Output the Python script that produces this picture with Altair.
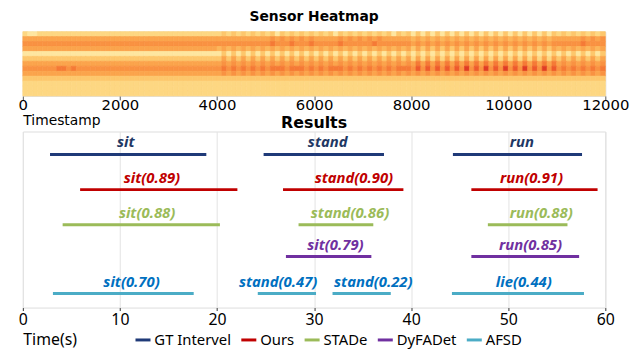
import altair as alt
import pandas as pd

# ---------------- Sensor heatmap (levels 0-9) ----------------
heat_start = [0, 100]          # column width in timestamps (first, step)
heat_rows = [
    "2112222222 2222222222 2222222222 2222222222 2323232323 2313232323 2323132323 2323231323 1313131313 1313131313 1313131313 2323232323",
    "5555555555 5555555555 5555555555 5555555555 5555555555 5656565656 5555565656 5656555555 4545454545 4545454545 4545454545 5555565656",
    "6666666666 6666666666 6666666666 6666666666 6666666666 6766676667 6666676666 6676666666 5656565656 5656565656 5656565656 6666676666",
    "5555555555 5555555555 5555555555 5555555555 4545454545 4545454545 4545454545 4545454545 3535353535 3535353535 3535353535 4545454545",
    "1111111111 1111111111 1111111111 1111111111 1313131313 1313131313 1313131313 1313131313 1313131313 1313131313 1313131313 1313131313",
    "3333333333 3333333333 3333333333 3333333333 3535353535 3535353535 3535353535 3535353535 2525252525 2525252525 2525252525 3535353535",
    "5555555555 5555555555 5555555555 5555555555 5656565656 5656565656 5656565656 5656565656 5757575757 5757575757 5757575757 5656565656",
    "6666666776 7666666666 6666666666 6666666666 6767676767 6777677767 6767776767 6767676777 6868686868 6968696869 6869686968 6767676767",
    "5555555555 5555555555 5555555555 5555555555 5656565656 5656565656 5656565656 5656565656 5656565656 5656565656 5656565656 5656565656",
    "3333333333 3333333333 3333333333 3333333333 3333333333 3333333333 3333333333 3333333333 3333333333 3333333333 3333333333 3333333333",
    "2222222222 2222222222 2222222222 2222222222 2222222222 2222222222 2222222222 2222222222 2222222222 2222222222 2222222222 2222222222",
    "2222222222 2222222222 2222222222 2222222222 2222222222 2222222222 2222222222 2222222222 2222222222 2222222222 2222222222 2222222222",
    "2222222222 2222222222 2222222222 2222222222 2222222222 2222222222 2222222222 2222222222 2222222222 2222222222 2222222222 2222222222",
]
heat_levels = [0, 1, 2, 3, 4, 5, 6, 7, 8, 9]
heat_colors = ["#fff2b8", "#fee6a0", "#fdd782", "#fdc76c", "#fcb65a",
               "#fba44c", "#f99242", "#f57a36", "#ee5a2c", "#e03c24"]
heat_ticks = [0, 2000, 4000, 6000, 8000, 10000, 12000]

step = heat_start[1]
recs = []
for r, row in enumerate(heat_rows):
    s = row.replace(" ", "")
    for c, ch in enumerate(s):
        recs.append({"row": r, "row2": r + 1, "t": c * step, "t2": (c + 1) * step, "v": int(ch)})
heat_df = pd.DataFrame(recs)

heat = alt.Chart(heat_df).mark_rect(strokeWidth=0.7).encode(
    x=alt.X("t:Q", scale=alt.Scale(domain=[0, 12000], nice=False, zero=False),
            axis=alt.Axis(values=heat_ticks, format="d", title="Timestamp", grid=False,
                          labelFont="DejaVu Sans", labelFontSize=15, labelColor="black",
                          labelPadding=-2, tickSize=4, tickColor="#555", domain=False,
                          titleFont="DejaVu Sans", titleFontSize=14, titleFontWeight="normal",
                          titleColor="black", titleAnchor="start", titleAlign="left",
                          titleBaseline="middle", titleX=0, titleY=25, labelFlush=False)),
    x2="t2:Q",
    y=alt.Y("row:Q", scale=alt.Scale(domain=[0, len(heat_rows)], reverse=True, nice=False, zero=False), axis=None),
    y2="row2:Q",
    color=alt.Color("v:Q", scale=alt.Scale(domain=heat_levels, range=heat_colors), legend=None),
    stroke=alt.Stroke("v:Q", scale=alt.Scale(domain=heat_levels, range=heat_colors), legend=None),
).properties(
    width=589, height=65,
    title=alt.TitleParams("Sensor Heatmap", font="DejaVu Sans", fontSize=14, fontWeight="bold",
                          color="black", anchor="middle", offset=7),
)

# ---------------- Results ----------------
methods = ["GT Intervel", "Ours", "STADe", "DyFADet", "AFSD"]
method_y = [4.35, 3.35, 2.35, 1.45, 0.4]
line_colors = ["#1f3a78", "#c00000", "#9bbb59", "#7030a0", "#4bacc6"]
label_colors = ["#1f3864", "#c00000", "#9bbb59", "#7030a0", "#0070c0"]

seg_method = ["GT Intervel", "GT Intervel", "GT Intervel",
              "Ours", "Ours", "Ours",
              "STADe", "STADe", "STADe",
              "DyFADet", "DyFADet",
              "AFSD", "AFSD", "AFSD", "AFSD"]
seg_start = [2.8, 24.8, 44.3, 5.9, 26.8, 46.2, 4.1, 28.4, 47.9, 27.1, 46.2, 3.1, 24.2, 31.9, 44.2]
seg_end = [18.9, 37.2, 57.6, 22.1, 39.2, 59.2, 20.3, 36.1, 56.1, 35.9, 57.3, 17.6, 30.2, 37.9, 57.8]
seg_label = ["sit", "stand", "run",
             "sit(0.89)", "stand(0.90)", "run(0.91)",
             "sit(0.88)", "stand(0.86)", "run(0.88)",
             "sit(0.79)", "run(0.85)",
             "sit(0.70)", "stand(0.47)", "stand(0.22)", "lie(0.44)"]
seg_label_x = [10.6, 31.4, 51.4, 13.3, 34.1, 52.4, 12.8, 33.7, 53.4, 32.2, 52.3, 11.2, 26.3, 36.1, 51.6]
x_ticks = [0, 10, 20, 30, 40, 50, 60]

seg_df = pd.DataFrame({
    "method": seg_method, "start": seg_start, "end": seg_end,
    "label": seg_label, "lx": seg_label_x,
})
seg_df["y"] = seg_df["method"].map(dict(zip(methods, method_y)))

xscale = alt.Scale(domain=[0, 60], nice=False, zero=False)
yscale = alt.Scale(domain=[0, 5], nice=False, zero=False)

lines = alt.Chart(seg_df).mark_rule(strokeWidth=3).encode(
    x=alt.X("start:Q", scale=xscale,
            axis=alt.Axis(values=x_ticks, title="Time(s)", grid=True, gridColor="#e3e3e3",
                          labelFont="Noto Sans", labelFontSize=16, labelColor="black",
                          labelPadding=1, tickSize=3, tickColor="#333", domain=False,
                          titleFont="Noto Sans", titleFontSize=16, titleFontWeight="normal",
                          titleColor="black", titleAnchor="start", titleAlign="left",
                          titleBaseline="middle", titleX=0, titleY=32, labelFlush=False)),
    x2="end:Q",
    y=alt.Y("y:Q", scale=yscale, axis=None),
    stroke=alt.Stroke("method:N", scale=alt.Scale(domain=methods, range=line_colors),
                      legend=alt.Legend(title=None, orient="none", direction="horizontal",
                                        legendX=112, legendY=201, symbolType="stroke",
                                        symbolStrokeWidth=3, symbolSize=230,
                                        labelFont="Noto Sans", labelFontSize=15,
                                        labelColor="black", labelOffset=2, columnPadding=3)),
)

texts = alt.Chart(seg_df).mark_text(font="Noto Sans", fontSize=15, fontWeight="bold",
                                    fontStyle="italic", dy=-12, baseline="middle").encode(
    x=alt.X("lx:Q", scale=xscale),
    y=alt.Y("y:Q", scale=yscale),
    text="label:N",
    color=alt.Color("method:N", scale=alt.Scale(domain=methods, range=label_colors), legend=None),
)

results = alt.layer(lines, texts).properties(
    width=589, height=178,
    title=alt.TitleParams("Results", font="DejaVu Sans", fontSize=16, fontWeight="bold",
                          color="black", anchor="middle", offset=1),
)

chart = alt.vconcat(heat, results, spacing=36, bounds="flush").properties(
    padding={"left": 9, "top": 0, "right": 5, "bottom": 0}
).configure_view(stroke="#444", strokeWidth=1).configure(background="white")

chart.save("out.html", embed_options={"renderer": "svg", "actions": False})
